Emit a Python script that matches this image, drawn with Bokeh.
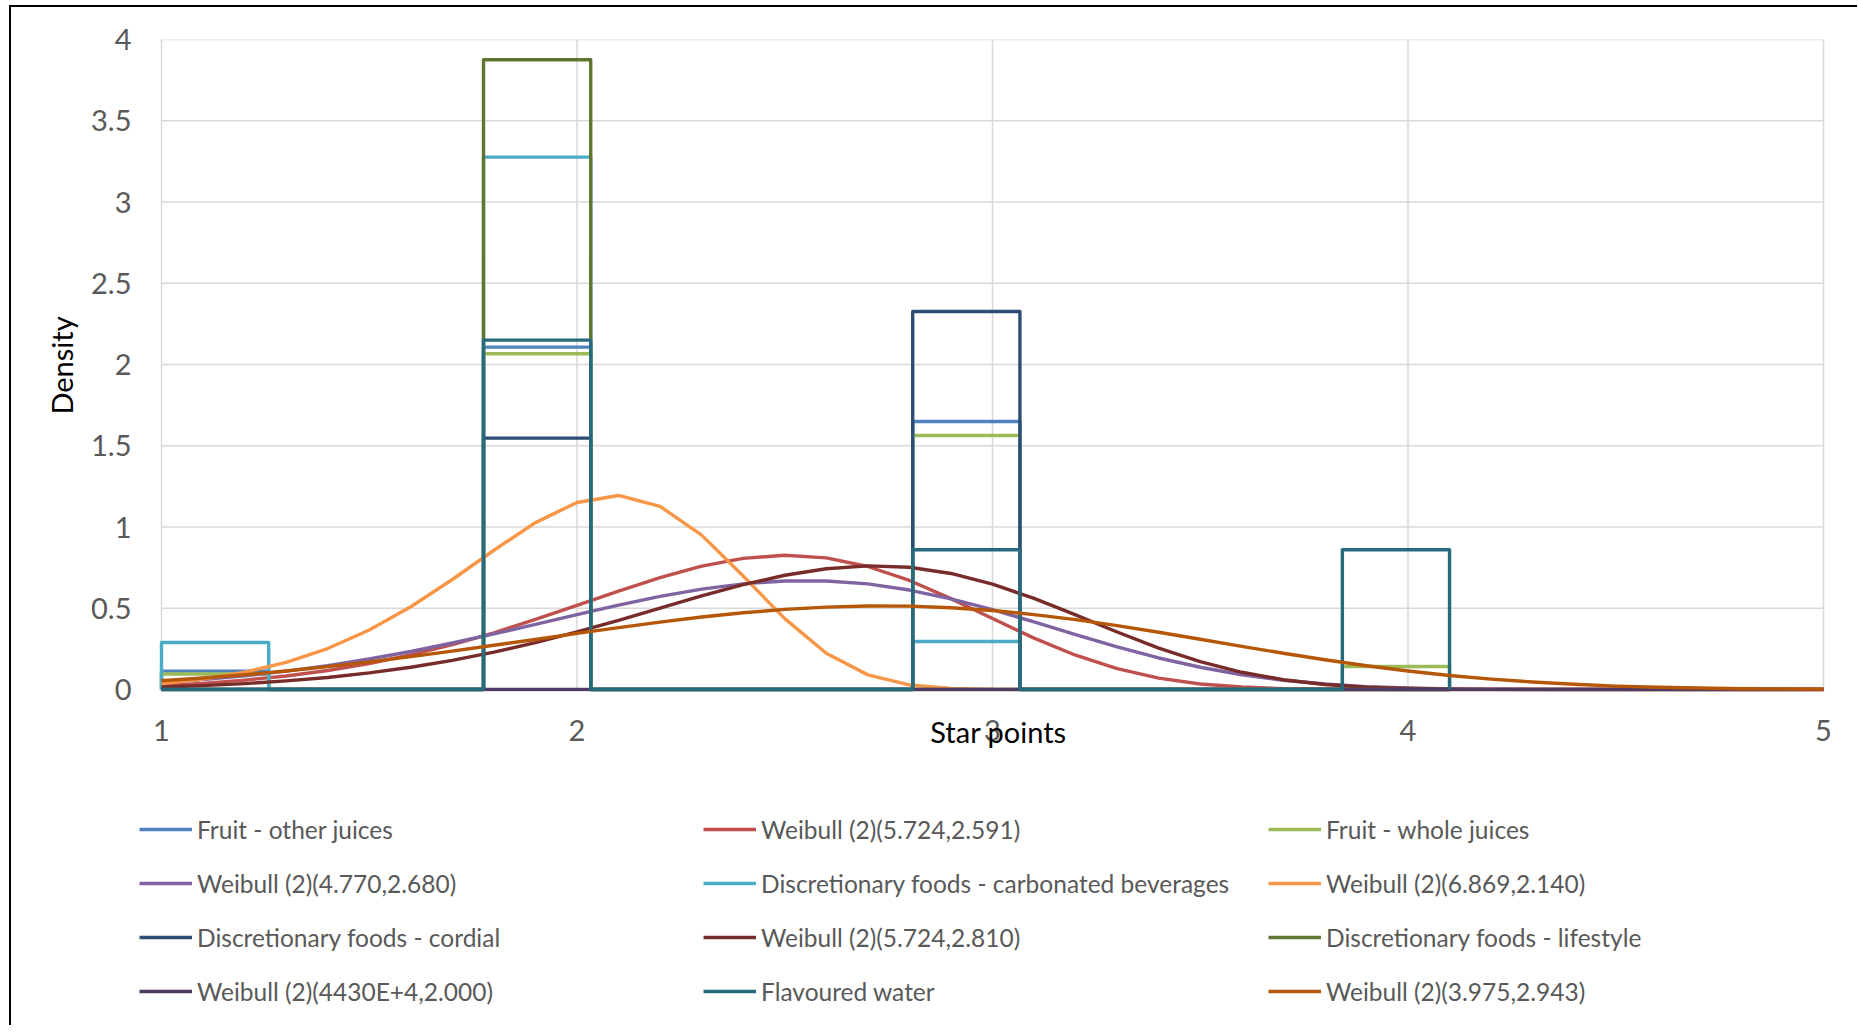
from bokeh.plotting import figure
from bokeh.models import Range1d, FixedTicker, Legend, LegendItem
from bokeh.layouts import column
from bokeh.embed import file_html
from bokeh.resources import INLINE

# ---------------- data ----------------
x_ticks = [1, 2, 3, 4, 5]
y_ticks = [0, 0.5, 1, 1.5, 2, 2.5, 3, 3.5, 4]
y_tick_labels = ["0", "0.5", "1", "1.5", "2", "2.5", "3", "3.5", "4"]

# histogram bins (left edges) and common width, star points
bin_lefts = [1.000, 1.775, 2.808, 3.842]
bin_width = 0.258

fruit_other = [0.113, 2.107, 1.649, 0.000]
fruit_whole = [0.095, 2.066, 1.563, 0.142]
carbonated = [0.289, 3.276, 0.295, 0.000]
cordial = [0.000, 1.547, 2.326, 0.000]
lifestyle = [0.000, 3.875, 0.000, 0.000]
flav_water = [0.000, 2.150, 0.860, 0.860]

# fitted Weibull density curves, read at star points 1.0 .. 5.0 (step 0.1)
curve_x = [1.0, 1.1, 1.2, 1.3, 1.4, 1.5, 1.6, 1.7, 1.8, 1.9,
           2.0, 2.1, 2.2, 2.3, 2.4, 2.5, 2.6, 2.7, 2.8, 2.9,
           3.0, 3.1, 3.2, 3.3, 3.4, 3.5, 3.6, 3.7, 3.8, 3.9,
           4.0, 4.1, 4.2, 4.3, 4.4, 4.5, 4.6, 4.7, 4.8, 4.9, 5.0]
weib_5724_2591 = [0.025, 0.038, 0.058, 0.083, 0.117, 0.160, 0.213, 0.276, 0.349, 0.431,
                  0.518, 0.606, 0.689, 0.759, 0.807, 0.826, 0.810, 0.757, 0.671, 0.559,
                  0.437, 0.316, 0.211, 0.128, 0.070, 0.034, 0.015, 0.005, 0.002, 0.001,
                  0.000, 0.000, 0.000, 0.000, 0.000, 0.000, 0.000, 0.000, 0.000, 0.000, 0.000]
weib_4770_2680 = [0.043, 0.061, 0.084, 0.113, 0.147, 0.188, 0.234, 0.286, 0.342, 0.401,
                  0.461, 0.519, 0.573, 0.618, 0.650, 0.668, 0.668, 0.650, 0.612, 0.558,
                  0.491, 0.416, 0.338, 0.263, 0.194, 0.137, 0.091, 0.057, 0.034, 0.018,
                  0.009, 0.004, 0.002, 0.001, 0.000, 0.000, 0.000, 0.000, 0.000, 0.000, 0.000]
weib_6869_2140 = [0.037, 0.064, 0.106, 0.167, 0.252, 0.366, 0.509, 0.677, 0.857, 1.027,
                  1.151, 1.194, 1.127, 0.950, 0.698, 0.436, 0.223, 0.090, 0.028, 0.006,
                  0.001, 0.000, 0.000, 0.000, 0.000, 0.000, 0.000, 0.000, 0.000, 0.000,
                  0.000, 0.000, 0.000, 0.000, 0.000, 0.000, 0.000, 0.000, 0.000, 0.000, 0.000]
weib_5724_2810 = [0.015, 0.024, 0.036, 0.053, 0.074, 0.102, 0.137, 0.179, 0.230, 0.288,
                  0.354, 0.426, 0.501, 0.576, 0.645, 0.703, 0.743, 0.761, 0.752, 0.714,
                  0.648, 0.561, 0.459, 0.354, 0.255, 0.171, 0.106, 0.060, 0.031, 0.014,
                  0.006, 0.002, 0.001, 0.000, 0.000, 0.000, 0.000, 0.000, 0.000, 0.000, 0.000]
weib_4430e4_2000 = [0.0] * 41
weib_3975_2943 = [0.054, 0.071, 0.091, 0.114, 0.141, 0.170, 0.202, 0.236, 0.272, 0.308,
                  0.345, 0.381, 0.415, 0.446, 0.472, 0.493, 0.507, 0.514, 0.513, 0.503,
                  0.486, 0.461, 0.430, 0.393, 0.352, 0.309, 0.265, 0.223, 0.183, 0.146,
                  0.114, 0.086, 0.064, 0.046, 0.032, 0.021, 0.014, 0.009, 0.005, 0.003, 0.002]

series_names = [
    "Fruit - other juices",
    "Weibull (2)(5.724,2.591)",
    "Fruit - whole juices",
    "Weibull (2)(4.770,2.680)",
    "Discretionary foods - carbonated beverages",
    "Weibull (2)(6.869,2.140)",
    "Discretionary foods - cordial",
    "Weibull (2)(5.724,2.810)",
    "Discretionary foods - lifestyle",
    "Weibull (2)(4430E+4,2.000)",
    "Flavoured water",
    "Weibull (2)(3.975,2.943)",
]
series_kind = ["hist", "curve"] * 6
series_values = [fruit_other, weib_5724_2591, fruit_whole, weib_4770_2680,
                 carbonated, weib_6869_2140, cordial, weib_5724_2810,
                 lifestyle, weib_4430e4_2000, flav_water, weib_3975_2943]
series_colors = ["#4F81BD", "#C0504D", "#9BBB59", "#8064A2", "#4BACC6", "#F79646",
                 "#2C4D75", "#772C2A", "#5F7530", "#4D3B62", "#276A7C", "#B65708"]

# ---------------- main plot ----------------
FONT = "Lato"
GREY = "#595959"
LW = 3.4
W = 1846

p = figure(width=W, height=760, output_backend="svg", toolbar_location=None,
           x_range=Range1d(1 - 22 / 415.5, 5 + 34 / 415.5), y_range=Range1d(-2 / 162.5, 4),
           min_border_left=128, min_border_right=0, min_border_top=32,
           min_border_bottom=76)
p.outline_line_color = None
p.background_fill_color = "white"
p.border_fill_color = "white"
p.grid.visible = False

p.xaxis.ticker = FixedTicker(ticks=x_ticks)
p.yaxis.ticker = FixedTicker(ticks=y_ticks)
p.yaxis.major_label_overrides = {t: l for t, l in zip(y_ticks, y_tick_labels)}

for ax in (p.xaxis[0], p.yaxis[0]):
    ax.axis_line_color = None
    ax.major_tick_line_color = None
    ax.minor_tick_line_color = None
    ax.major_tick_out = 0
    ax.major_tick_in = 0
    ax.major_label_text_font = FONT
    ax.major_label_text_font_size = "29px"
    ax.major_label_text_color = GREY
    ax.axis_label_text_font = FONT
    ax.axis_label_text_font_size = "29px"
    ax.axis_label_text_font_style = "normal"
    ax.axis_label_text_color = "black"

p.xaxis.axis_label = "Star points"
p.yaxis.axis_label = "Density"
p.xaxis.major_label_standoff = 28
p.yaxis.major_label_standoff = 8
p.xaxis.axis_label_standoff = -30
p.yaxis.axis_label_standoff = 9

# gridlines spanning only the plotted value range
GRID = dict(line_color="#D9D9D9", line_width=1.5)
p.segment(x0=x_ticks, y0=[y_ticks[0]] * len(x_ticks),
          x1=x_ticks, y1=[y_ticks[-1]] * len(x_ticks), **GRID)
p.segment(x0=[x_ticks[0]] * len(y_ticks), y0=y_ticks,
          x1=[x_ticks[-1]] * len(y_ticks), y1=y_ticks, **GRID)

paths = []
for name, kind, vals, col in zip(series_names, series_kind, series_values, series_colors):
    if kind == "hist":
        xs, ys = [bin_lefts[0]], [0.0]
        for left, h in zip(bin_lefts, vals):
            right = left + bin_width
            xs += [left, left, right, right]
            ys += [0.0, h, h, 0.0]
    else:
        xs, ys = curve_x, vals
    paths.append((xs, ys))
    p.line(xs, ys, line_color=col, line_width=LW, line_join="round")

# ---------------- legend strip (3 columns, read row by row) ----------------
q = figure(width=W, height=258, output_backend="svg", toolbar_location=None,
           x_axis_location=None, y_axis_location=None,
           x_range=Range1d(-3, -2), y_range=Range1d(-3, -2),
           min_border=0, min_border_left=0, min_border_right=0,
           min_border_top=0, min_border_bottom=0)
q.outline_line_color = None
q.grid.visible = False
q.background_fill_color = "white"
q.border_fill_color = "white"

# same series drawn outside the strip's visible range, used as legend keys
keys = [q.line(xs, ys, line_color=c, line_width=LW) for (xs, ys), c in zip(paths, series_colors)]

col_x = [0, 564, 1129]
for c in range(3):
    items = [LegendItem(label=series_names[i], renderers=[keys[i]])
             for i in range(c, 12, 3)]
    lg = Legend(items=items, location=(col_x[c], 7),
                orientation="vertical", padding=0, margin=0, spacing=0,
                glyph_width=53, glyph_height=54, label_height=54, label_standoff=5,
                label_text_font=FONT, label_text_font_size="24.5px",
                label_text_color=GREY, border_line_color=None,
                background_fill_alpha=0, click_policy="none")
    q.add_layout(lg, "center")

layout = column(p, q, spacing=0)
layout.styles = {"border-top": "2px solid black", "border-left": "2px solid black",
                 "margin-top": "5px", "margin-left": "9px"}

open("out.html", "w").write(file_html(layout, INLINE))
